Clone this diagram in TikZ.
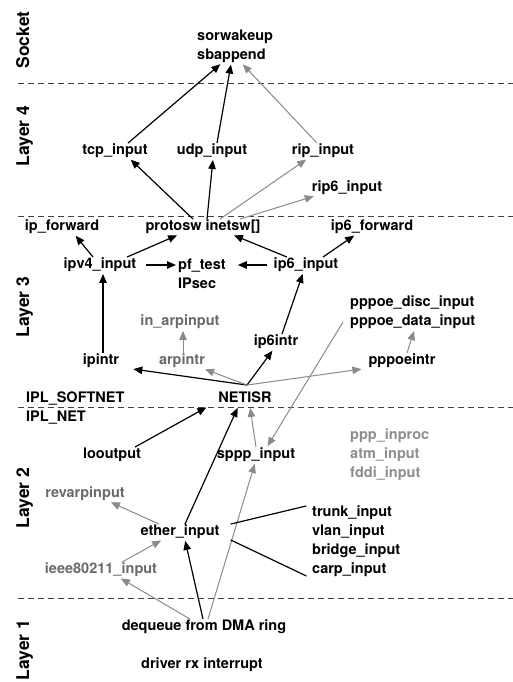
\documentclass[tikz,border=0pt]{standalone}
\usepackage{fontspec}
\setmainfont{TeX Gyre Heros}
\usetikzlibrary{arrows.meta}
\definecolor{faded}{HTML}{8A8A8A}
\definecolor{fadedtext}{HTML}{6A6A6A}
\definecolor{paletext}{HTML}{8E8E8E}
\newcommand{\lblfont}{\fontsize{14.5}{19}\selectfont\bfseries}
\tikzset{fn/.style={font=\lblfont, inner sep=1pt, text height=10.5pt, text depth=3pt}}
\tikzset{fnlist/.style={font=\lblfont, inner sep=1pt, align=left, anchor=west}}
\tikzset{layer/.style={font=\fontsize{17.5}{20}\selectfont\bfseries, rotate=90, anchor=base}}
\tikzset{arr/.style={draw, -{Triangle[length=9pt, width=7.5pt]}, line width=1.2pt, shorten >=1pt}}
\tikzset{garr/.style={arr, faded, line width=1pt}}
\tikzset{lvl/.style={draw, dash pattern=on 6pt off 4pt, line width=0.9pt, black!75}}

\begin{document}
\begin{tikzpicture}[x=1pt, y=-1pt]
			\useasboundingbox (0,0) rectangle (513,682);
			\node[layer] (socket) at (29,40) {Socket};
			\node[layer] (layerfour) at (29,136) {Layer 4};
			\node[layer] (layerthree) at (29,307) {Layer 3};
			\node[layer] (layertwo) at (29,498) {Layer 2};
			\node[layer] (layerone) at (29,650) {Layer 1};
			
			\draw[lvl] (18,83) -- (513,83);
			\draw[lvl] (18,216) -- (513,216);
			\draw[lvl] (18,407) -- (513,407);
			\draw[lvl] (18,598) -- (513,598);
			
			\node[fnlist] (sock) at (196,46) {sorwakeup\\sbappend};
			\node[fn] (tcp) at (115,151) {tcp\_input};
			\node[fn] (udp) at (212,151) {udp\_input};
			\node[fn] (rip) at (323,151) {rip\_input};
			\node[fn] (ripsix) at (347,188) {rip6\_input};
			
			\node[fn] (protosw) at (203,227) {protosw inetsw[]};
			\node[fn] (ipfwd) at (62,227) {ip\_forward};
			\node[fn] (ipsixfwd) at (372,227) {ip6\_forward};
			\node[fn] (ipv4) at (100,265) {ipv4\_input};
			\node[fnlist] (pf) at (177,274) {pf\_test\\IPsec};
			\node[fn] (ipsix) at (306,265) {ip6\_input};
			\node[fnlist] (pppoe) at (349,312.5) {pppoe\_disc\_input\\pppoe\_data\_input};
			\node[fn, text=fadedtext] (inarp) at (180,322) {in\_arpinput};
			\node[fn] (ipsixintr) at (276,342) {ip6intr};
			\node[fn] (ipintr) at (101,361) {ipintr};
			\node[fn, text=fadedtext] (arpintr) at (182,361) {arpintr};
			\node[fn] (pppoeintr) at (402,361) {pppoeintr};
			\node[fn, anchor=west] (softnet) at (25,399) {IPL\_SOFTNET};
			\node[fn] (netisr) at (245,399) {NETISR};
			\node[fn, anchor=west] (iplnet) at (25,418) {IPL\_NET};
			
			\node[fn] (looutput) at (112,455) {looutput};
			\node[fn] (sppp) at (256,455) {sppp\_input};
			\node[fnlist, text=paletext] (ppp) at (349,455) {ppp\_inproc\\atm\_input\\fddi\_input};
			\node[fn, text=fadedtext] (revarp) at (85,494) {revarpinput};
			\node[fn] (ether) at (180,532) {ether\_input};
			\node[fnlist] (trunk) at (311,541.5) {trunk\_input\\vlan\_input\\bridge\_input\\carp\_input};
			\node[fn, text=fadedtext] (ieee) at (101,570) {ieee80211\_input};
			\node[fn] (dequeue) at (204,627) {dequeue from DMA ring};
			\node[fn] (driver) at (202,665) {driver rx interrupt};
			
			\draw[arr] ([xshift=13pt]tcp.north) -- ([xshift=-14pt]sock.south);
			\draw[arr] ([xshift=5pt]udp.north) -- ([xshift=-4pt]sock.south);
			\draw[garr] ([xshift=-6pt]rip.north) -- ([xshift=7pt]sock.south);
			
			\draw[arr] ([xshift=-10pt]protosw.north) -- ([xshift=15pt]tcp.south);
			\draw[arr] ([xshift=4pt]protosw.north) -- ([xshift=1pt]udp.south);
			\draw[garr] ([xshift=17pt]protosw.north) -- ([xshift=-16pt]rip.south);
			\draw[garr] ([xshift=37pt]protosw.north) -- ([xshift=4pt]ripsix.south west);
			
			\draw[arr] ([xshift=-7pt]ipv4.north) -- ([xshift=13pt]ipfwd.south);
			\draw[arr] ([xshift=27pt]ipv4.north) -- ([xshift=-25pt]protosw.south);
			\draw[arr] ([xshift=-19pt]ipsix.north) -- ([xshift=30pt]protosw.south);
			\draw[arr] ([xshift=17pt]ipsix.north) -- ([xshift=-17pt]ipsixfwd.south);
			\draw[arr, shorten <=9pt] (ipv4.east) -- ([yshift=9pt]pf.west);
			\draw[arr, shorten <=6pt, shorten >=11pt] (ipsix.west) -- ([yshift=9pt]pf.east);
			
			\draw[arr] ([xshift=2pt]ipintr.north) -- ([xshift=3pt]ipv4.south);
			\draw[arr] ([xshift=6pt]ipsixintr.north) -- ([xshift=-3pt]ipsix.south);
			\draw[garr] ([xshift=1pt]arpintr.north) -- ([xshift=3pt]inarp.south);
			\draw[garr] ([xshift=5pt]pppoeintr.north) -- ([xshift=1.5pt]pppoe.south);
			
			\draw[arr] ([shift={(2pt,6pt)}]netisr.north) -- ([xshift=12pt]ipintr.south east);
			\draw[garr] ([shift={(2pt,6pt)}]netisr.north) -- ([xshift=-2pt]arpintr.south east);
			\draw[arr] ([shift={(2pt,6pt)}]netisr.north) -- ([xshift=-3pt]ipsixintr.south);
			\draw[garr] ([shift={(2pt,6pt)}]netisr.north) -- ([xshift=-5pt]pppoeintr.south west);
			\draw[garr] ([shift={(-6pt,-9.5pt)}]pppoe.west) -- ([xshift=11pt]sppp.north);
			
			\draw[arr] ([xshift=23pt]looutput.north) -- ([xshift=-10pt]netisr.south west);
			\draw[arr] ([xshift=5pt]ether.north) -- ([xshift=-7pt]netisr.south);
			\draw[garr] (sppp.north) -- ([xshift=5pt]netisr.south);
			
			\draw[arr] ([xshift=-1pt]dequeue.north) -- ([xshift=5pt]ether.south);
			\draw[garr] ([xshift=4pt]dequeue.north) -- ([xshift=-1pt]sppp.south);
			\draw[garr] ([xshift=-14pt]dequeue.north) -- ([xshift=19pt]ieee.south);
			\draw[garr] ([xshift=21pt]ieee.north) -- ([xshift=-18pt]ether.south);
			\draw[garr] ([xshift=-21pt]ether.north) -- ([xshift=25pt]revarp.south);
			\draw[line width=1.2pt, shorten >=5pt] ([xshift=10pt]ether.north east) -- (trunk.north west);
			\draw[line width=1.2pt, shorten >=5pt] ([xshift=10pt]ether.south east) -- (trunk.south west);
		\end{tikzpicture}
\end{document}
